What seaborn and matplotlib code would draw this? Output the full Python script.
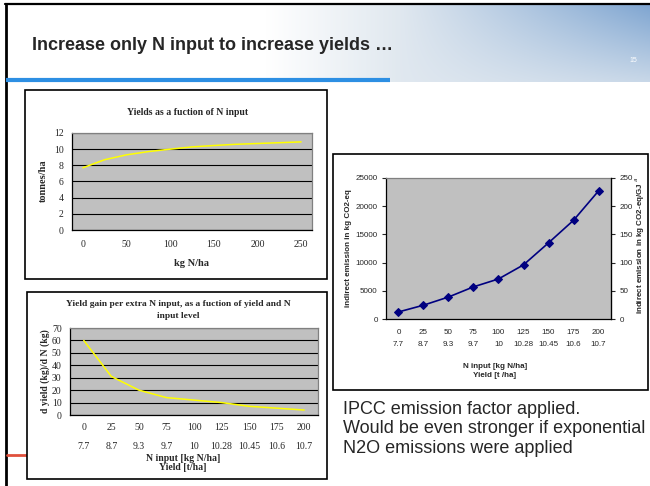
import numpy as np
import pandas as pd
import matplotlib
matplotlib.use("Agg")
import matplotlib.pyplot as plt
import seaborn as sns
from matplotlib.patches import Rectangle
from matplotlib.transforms import blended_transform_factory

# ---------------- data ----------------
slide_title = "Increase only N input to increase yields \u2026"
n_input_curve = [0, 25, 50, 75, 100, 125, 150, 175, 200, 225, 250]
yield_t_ha = [7.7, 8.7, 9.3, 9.7, 10.0, 10.28, 10.45, 10.6, 10.7, 10.8, 10.9]
n_input_levels = ["0", "25", "50", "75", "100", "125", "150", "175", "200"]
yield_levels = ["7.7", "8.7", "9.3", "9.7", "10", "10.28", "10.45", "10.6", "10.7"]
yield_gain = [60, 31, 20, 14, 12, 10, 7, 5.5, 4]
indirect_emission = [1250, 2450, 3900, 5700, 7100, 9600, 13500, 17500, 22700]
y1_ticks = [0, 2, 4, 6, 8, 10, 12]
y2_ticks = [0, 10, 20, 30, 40, 50, 60, 70]
y3_ticks = [0, 5000, 10000, 15000, 20000, 25000]
y3r_ticks = [0, 50, 100, 150, 200, 250]
note_lines = ["IPCC emission factor applied.",
              "Would be even stronger if exponential",
              "N2O emissions were applied"]

sns.set_style("white")
plt.rcParams["font.family"] = ["Liberation Sans", "DejaVu Sans"]

W, H = 650, 486
fig = plt.figure(figsize=(W / 100, H / 100), dpi=100)


def rect(l, t, r, b):
    return [l / W, 1 - b / H, (r - l) / W, (b - t) / H]


SERIF = ["Liberation Serif", "DejaVu Serif"]
SANS = ["Liberation Sans", "DejaVu Sans"]

# ---------------- background / slide decoration ----------------
bg = fig.add_axes([0, 0, 1, 1], zorder=0)
bg.axis("off")
ny, nx = 60, 300
xs = np.linspace(0, 1, nx)[None, :]
ys = np.linspace(0, 1, ny)[:, None]
pale = np.array([0.88, 0.91, 0.94])
sky = np.array([0.50, 0.65, 0.82])
mixf = np.clip((xs - 0.35) / 0.65, 0, 1) * (1 - 0.75 * ys)
rgb = pale[None, None, :] * (1 - mixf[..., None]) + sky[None, None, :] * mixf[..., None]
alpha = np.clip(xs / 0.35, 0, 1) * np.ones_like(ys)
bg.imshow(np.dstack([rgb, alpha]), extent=(265, 650, 82, 5), aspect="auto",
          interpolation="bilinear", zorder=1)
bg.set_xlim(0, W)
bg.set_ylim(H, 0)

bg.plot([5, 650], [4.5, 4.5], color="black", lw=1.6, zorder=2)
bg.plot([5.5, 5.5], [4, 486], color="black", lw=2.0, zorder=2)
bg.plot([6, 390], [80, 80], color="#2d8fe3", lw=3, solid_capstyle="butt", zorder=2)
bg.plot([7, 30], [455, 455], color="#e0503c", lw=2, zorder=2)
bg.text(32, 45, slide_title, fontsize=13, fontweight="bold", family=SANS,
        ha="left", va="center", zorder=3)
bg.text(633, 60, "15", fontsize=5, color="white", ha="center", va="center", zorder=3)

for (l, t, r, b) in [(25, 90, 327, 279), (27, 292, 327, 479), (333, 154, 648, 390)]:
    bg.add_patch(Rectangle((l, t), r - l, b - t, facecolor="white",
                           edgecolor="black", lw=1.2, zorder=2))

for i, line in enumerate(note_lines):
    bg.text(343, 409 + 19.5 * i, line, fontsize=13, family=SANS,
            ha="left", va="center", zorder=3)

# ---------------- chart 1 ----------------
ax1 = fig.add_axes(rect(72, 133, 312, 230), zorder=3)
ax1.set_facecolor("#C0C0C0")
df1 = pd.DataFrame({"pos": np.arange(len(yield_t_ha)), "yield": yield_t_ha})
sns.lineplot(data=df1, x="pos", y="yield", ax=ax1, color="#FFFF00", lw=1.1)
ax1.set_xlim(-0.5, len(yield_t_ha) - 0.5)
ax1.set_ylim(0, 12)
ax1.set_yticks(y1_ticks)
ax1.set_xticks(np.arange(0, len(n_input_curve), 2))
ax1.set_xticklabels([str(v) for v in n_input_curve[::2]])
ax1.set_xticks(np.arange(-0.5, len(n_input_curve), 1), minor=True)
ax1.tick_params(axis="x", which="major", length=0, pad=7)
ax1.tick_params(axis="x", which="minor", length=3, width=0.8, direction="out")
ax1.tick_params(axis="y", length=3, width=0.8, direction="out", pad=3)
ax1.grid(axis="y", color="black", lw=0.8)
ax1.set_axisbelow(True)
ax1.set_xlabel("")
ax1.set_ylabel("")
for lab in ax1.get_xticklabels() + ax1.get_yticklabels():
    lab.set_family(SERIF)
    lab.set_fontsize(7)
bg.text(188, 112, "Yields as a fuction of N input", fontsize=7, fontweight="bold",
        family=SERIF, ha="center", va="center", zorder=3)
bg.text(192, 263, "kg N/ha", fontsize=7.5, fontweight="bold", family=SERIF,
        ha="center", va="center", zorder=3)
bg.text(43, 181, "tonnes/ha", fontsize=7.5, fontweight="bold", family=SERIF,
        ha="center", va="center", rotation=90, zorder=3)

# ---------------- chart 2 ----------------
ax2 = fig.add_axes(rect(70, 328, 318, 415), zorder=3)
ax2.set_facecolor("#C0C0C0")
df2 = pd.DataFrame({"pos": np.arange(len(yield_gain)), "gain": yield_gain})
sns.lineplot(data=df2, x="pos", y="gain", ax=ax2, color="#FFFF00", lw=1.1)
ax2.set_xlim(-0.5, len(yield_gain) - 0.5)
ax2.set_ylim(0, 70)
ax2.set_yticks(y2_ticks)
ax2.set_xticks([])
ax2.set_xticks(np.arange(-0.5, len(yield_gain), 1), minor=True)
ax2.tick_params(axis="x", which="minor", length=38 * 0.72, width=0.8, direction="out")
ax2.tick_params(axis="y", length=3, width=0.8, direction="out", pad=3)
ax2.grid(axis="y", color="black", lw=0.8)
ax2.set_axisbelow(True)
ax2.set_xlabel("")
ax2.set_ylabel("")
for lab in ax2.get_yticklabels():
    lab.set_family(SERIF)
    lab.set_fontsize(7)
tr2 = blended_transform_factory(ax2.transData, ax2.transAxes)
for i, (n, y) in enumerate(zip(n_input_levels, yield_levels)):
    ax2.text(i, -12 / 87, n, transform=tr2, ha="center", va="center",
             fontsize=7, family=SERIF)
    ax2.text(i, -31 / 87, y, transform=tr2, ha="center", va="center",
             fontsize=7, family=SERIF)
bg.text(178, 304, "Yield gain per extra N input, as a fuction of yield and N",
        fontsize=6.8, fontweight="bold", family=SERIF, ha="center", va="center", zorder=3)
bg.text(178, 316, "input level", fontsize=6.8, fontweight="bold", family=SERIF,
        ha="center", va="center", zorder=3)
bg.text(45, 371, "d yield (kg)/d N (kg)", fontsize=7, fontweight="bold", family=SERIF,
        ha="center", va="center", rotation=90, zorder=3)
fig.text(183 / W, 1 - 458 / H, "N input [kg N/ha]", fontsize=7, fontweight="bold",
         family=SERIF, ha="center", va="center", zorder=5)
fig.text(183 / W, 1 - 468 / H, "Yield [t/ha]", fontsize=7, fontweight="bold",
         family=SERIF, ha="center", va="center", zorder=5)

# ---------------- chart 3 ----------------
ax3 = fig.add_axes(rect(386, 178, 611, 319), zorder=3)
ax3.set_facecolor("#C0C0C0")
df3 = pd.DataFrame({"pos": np.arange(len(indirect_emission)), "em": indirect_emission})
sns.lineplot(data=df3, x="pos", y="em", ax=ax3, color="#000080", lw=1.2,
             marker="D", markersize=4, markeredgecolor="#000080")
ax3.set_xlim(-0.5, len(indirect_emission) - 0.5)
ax3.set_ylim(0, 25000)
ax3.set_yticks(y3_ticks)
ax3.set_xticks([])
ax3.set_xticks(np.arange(-0.5, len(indirect_emission), 1), minor=True)
ax3.tick_params(axis="x", which="minor", length=36 * 0.72, width=0.8, direction="out")
ax3.tick_params(axis="y", length=3, width=0.8, direction="out", pad=3, labelsize=5.8)
ax3.set_xlabel("")
ax3.set_ylabel("")
ax3r = ax3.twinx()
ax3r.set_ylim(0, 250)
ax3r.set_yticks(y3r_ticks)
ax3r.tick_params(axis="y", length=3, width=0.8, direction="out", pad=3, labelsize=5.8)
tr3 = blended_transform_factory(ax3.transData, ax3.transAxes)
for i, (n, y) in enumerate(zip(n_input_levels, yield_levels)):
    ax3.text(i, -13 / 141, n, transform=tr3, ha="center", va="center", fontsize=5.8)
    ax3.text(i, -26 / 141, y, transform=tr3, ha="center", va="center", fontsize=5.8)
bg.text(495, 366, "N input [kg N/ha]", fontsize=5.8, fontweight="bold",
        ha="center", va="center", zorder=3)
bg.text(495, 375, "Yield [t /ha]", fontsize=5.8, fontweight="bold",
        ha="center", va="center", zorder=3)
bg.text(348, 248, "indirect emission in kg CO2-eq", fontsize=5.8, fontweight="bold",
        ha="center", va="center", rotation=90, zorder=3)
bg.text(640, 245, "indirect emission in kg CO2-eq/GJ $^{a}$", fontsize=5.8,
        fontweight="bold", ha="center", va="center", rotation=90, zorder=3)

for ax in (ax1, ax2, ax3):
    for s in ("left", "bottom"):
        ax.spines[s].set_color("black")
        ax.spines[s].set_linewidth(0.9)
    for s in ("top", "right"):
        ax.spines[s].set_color("#808080")
        ax.spines[s].set_linewidth(0.9)
ax3r.spines["right"].set_color("black")
ax3r.spines["right"].set_linewidth(0.9)
for s in ("left", "top", "bottom"):
    ax3r.spines[s].set_visible(False)

fig.savefig("out.png", dpi=100)
